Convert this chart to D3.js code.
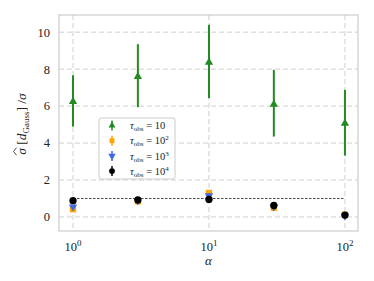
<!DOCTYPE html>
<html>
<head>
<meta charset="utf-8">
<script src="https://cdn.jsdelivr.net/npm/d3@7"></script>
<style>
  body { margin: 0; background: #fff; }
  svg { display: block; font-family: "Liberation Serif", "DejaVu Serif", serif; }
</style>
</head>
<body>
<svg id="chart" width="374" height="281"></svg>
<script>
const alphas = [1, 3, 10, 30, 100]

// tau_obs = 10
const tau1Mean = [6.24, 7.6, 8.37, 6.1, 5.07]
const tau1Lo = [4.89, 5.94, 6.43, 4.35, 3.32]
const tau1Hi = [7.67, 9.35, 10.4, 7.96, 6.88]
// tau_obs = 10^2
const tau2Mean = [0.42, 0.85, 1.3, 0.5, 0.12]
const tau2Err = [0.1, 0.06, 0.1, 0.05, 0.04]
// tau_obs = 10^3
const tau3Mean = [0.55, 0.88, 1.15, 0.55, 0.05]
const tau3Err = [0.08, 0.04, 0.06, 0.04, 0.05]
// tau_obs = 10^4
const tau4Mean = [0.88, 0.92, 0.95, 0.62, 0.1]
const tau4Err = [0.03, 0.02, 0.03, 0.02, 0.02]

const yTicks = [0, 2, 4, 6, 8, 10]
const xTicks = [1, 10, 100]
const legendLabels = ["10", "10", "10", "10"]
const legendExp = ["", "2", "3", "4"]

const width = 374, height = 281
const m = {top: 15, right: 16, bottom: 50, left: 59}
const iw = width - m.left - m.right
const ih = height - m.top - m.bottom

const x = d3.scaleLog().domain([Math.pow(10, -0.103), Math.pow(10, 2.096)]).range([0, iw])
const y = d3.scaleLinear().domain([-0.76, 10.93]).range([ih, 0])

const svg = d3.select("#chart")
const g = svg.append("g").attr("transform", `translate(${m.left},${m.top})`)

// grid
g.append("g")
  .selectAll("line")
  .data(yTicks)
  .join("line")
  .attr("x1", 0).attr("x2", iw)
  .attr("y1", (d) => y(d)).attr("y2", (d) => y(d))
  .attr("stroke", "#cfcfcf").attr("stroke-width", 1).attr("stroke-dasharray", "5,3")
g.append("g")
  .selectAll("line")
  .data(xTicks)
  .join("line")
  .attr("y1", 0).attr("y2", ih)
  .attr("x1", (d) => x(d)).attr("x2", (d) => x(d))
  .attr("stroke", "#cfcfcf").attr("stroke-width", 1).attr("stroke-dasharray", "5,3")

// frame
g.append("rect").attr("width", iw).attr("height", ih)
  .attr("fill", "none").attr("stroke", "#cccccc").attr("stroke-width", 1.2)

// tick labels
g.append("g")
  .selectAll("text")
  .data(yTicks)
  .join("text")
  .attr("x", -9).attr("y", (d) => y(d)).attr("dy", "0.35em")
  .attr("text-anchor", "end").attr("font-size", 12.5).attr("fill", "#222")
  .text((d) => d)

const xt = g.append("g")
  .selectAll("text")
  .data(xTicks)
  .join("text")
  .attr("x", (d) => x(d)).attr("y", ih + 20)
  .attr("text-anchor", "middle").attr("font-size", 12.5).attr("fill", "#222")
xt.append("tspan").text("10")
xt.append("tspan").attr("dy", -5).attr("font-size", 9).text((d) => Math.round(Math.log10(d)))

// axis labels
g.append("text").attr("x", iw / 2).attr("y", ih + 34)
  .attr("text-anchor", "middle").attr("font-size", 13).attr("font-style", "italic").attr("fill", "#222")
  .text("α")

const ylg = svg.append("g").attr("transform", "translate(26,124) rotate(-90)")
const yl = ylg.append("text").attr("x", 0).attr("y", 0)
  .attr("text-anchor", "middle").attr("font-size", 13.5).attr("fill", "#222")
yl.append("tspan").attr("font-style", "italic").text("σ")
yl.append("tspan").text(" [")
yl.append("tspan").attr("font-style", "italic").text("d")
yl.append("tspan").attr("font-size", 9).attr("dy", 3).text("Gauss")
yl.append("tspan").attr("dy", -3).text("] /")
yl.append("tspan").attr("font-style", "italic").text("σ")
// wide hat over the first sigma
const sigStart = yl.node().getStartPositionOfChar(0)
const sigEnd = yl.node().getEndPositionOfChar(0)
ylg.append("path")
  .attr("d", `M${sigStart.x - 0.5},-9.5 L${(sigStart.x + sigEnd.x) / 2},-12.5 L${sigEnd.x + 0.5},-9.5`)
  .attr("fill", "none").attr("stroke", "#222").attr("stroke-width", 0.8)

// reference line
g.append("line")
  .attr("x1", x(1)).attr("x2", x(100)).attr("y1", y(1)).attr("y2", y(1))
  .attr("stroke", "#444").attr("stroke-width", 1).attr("stroke-dasharray", "2.5,1.5")

const tri = d3.symbol().type(d3.symbolTriangle).size(30)
const sq = d3.symbol().type(d3.symbolSquare).size(40)
const circ = d3.symbol().type(d3.symbolCircle).size(42)

function drawSeries(mean, lo, hi, color, sym, rot, lw) {
  const s = g.append("g")
  s.selectAll("line")
    .data(alphas)
    .join("line")
    .attr("x1", (d) => x(d)).attr("x2", (d) => x(d))
    .attr("y1", (d, i) => y(lo[i])).attr("y2", (d, i) => y(hi[i]))
    .attr("stroke", color).attr("stroke-width", lw)
  s.selectAll("path")
    .data(alphas)
    .join("path")
    .attr("d", sym)
    .attr("transform", (d, i) => `translate(${x(d)},${y(mean[i])}) rotate(${rot})`)
    .attr("fill", color)
}

drawSeries(tau1Mean, tau1Lo, tau1Hi, "#228b22", tri, 0, 2)
drawSeries(tau2Mean, tau2Mean.map((v, i) => v - tau2Err[i]), tau2Mean.map((v, i) => v + tau2Err[i]), "#ffa500", sq, 0, 1.5)
drawSeries(tau3Mean, tau3Mean.map((v, i) => v - tau3Err[i]), tau3Mean.map((v, i) => v + tau3Err[i]), "#4169e1", tri, 180, 1.5)
drawSeries(tau4Mean, tau4Mean.map((v, i) => v - tau4Err[i]), tau4Mean.map((v, i) => v + tau4Err[i]), "#000000", circ, 0, 1.5)

// legend
const legend = g.append("g").attr("transform", `translate(${99 - m.left},${118 - m.top})`)
legend.append("rect").attr("width", 76).attr("height", 61).attr("rx", 2)
  .attr("fill", "#fff").attr("fill-opacity", 0.85).attr("stroke", "#cccccc")
const legColors = ["#228b22", "#ffa500", "#4169e1", "#000000"]
const legSyms = [[tri, 0], [sq, 0], [tri, 180], [circ, 0]]
legColors.forEach((c, i) => {
  const ly = 7.5 + i * 15.2
  legend.append("line").attr("x1", 13).attr("x2", 13).attr("y1", ly - 5).attr("y2", ly + 5)
    .attr("stroke", c).attr("stroke-width", 1.5)
  legend.append("path").attr("d", i === 0 ? d3.symbol().type(d3.symbolTriangle).size(20) : legSyms[i][0].size(i === 3 ? 26 : 24))
    .attr("transform", `translate(13,${ly}) rotate(${legSyms[i][1]})`).attr("fill", c)
  const t = legend.append("text").attr("x", 31).attr("y", ly).attr("dy", "0.35em")
    .attr("font-size", 10.5).attr("fill", "#222")
  t.append("tspan").attr("font-style", "italic").text("τ")
  t.append("tspan").attr("font-size", 7).attr("dy", 2).text("obs")
  t.append("tspan").attr("dy", -2).text(" = " + legendLabels[i])
  if (legendExp[i]) t.append("tspan").attr("font-size", 7).attr("dy", -4).text(legendExp[i])
})
</script>
</body>
</html>
